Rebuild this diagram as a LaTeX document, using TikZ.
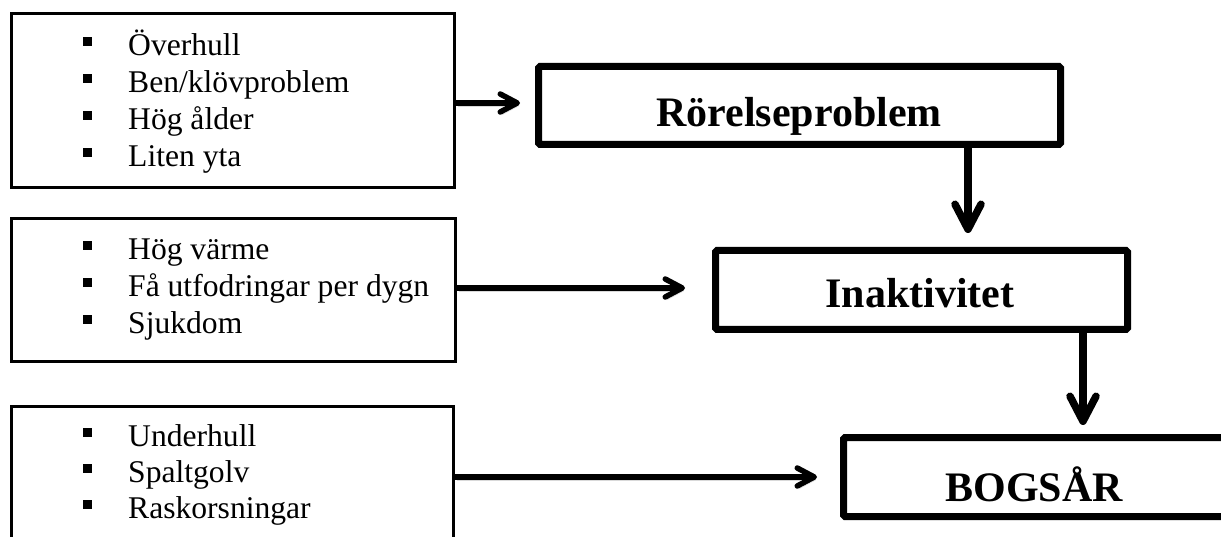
\documentclass[tikz,border=0pt]{standalone}
\usepackage{fontspec}
\setmainfont{Liberation Serif}
\usetikzlibrary{arrows.meta}
\begin{document}
\begin{tikzpicture}[x=1pt,y=-1pt,
  thinbox/.style={draw, line width=3pt, inner sep=0pt},
  thickbox/.style={draw, line width=7pt, inner sep=0pt, rounded corners=1.5pt},
  itemtxt/.style={anchor=base west, inner sep=0pt, font=\fontsize{31.6pt}{37pt}\selectfont},
  titletxt/.style={anchor=base, inner sep=0pt, font=\fontsize{42pt}{48pt}\selectfont\bfseries},
  arrshadow/.style={preaction={draw=black!25, opacity=0.6, transform canvas={shift={(1.5pt,-3pt)}}}},
  harrow/.style={arrshadow, line width=5.5pt, line cap=round,
    -{Straight Barb[length=17pt, width=18pt, round]}},
  varrow/.style={arrshadow, line width=7.5pt, line cap=round,
    -{Straight Barb[length=25pt, width=26pt, round]}}
]
\useasboundingbox (0,0) rectangle (1221,537);
\clip (0,0) rectangle (1221,537);
\newcommand{\bul}{\makebox[45pt][l]{\rule[9.5pt]{9pt}{9pt}}}

% left boxes
\node[thinbox, minimum width=443pt, minimum height=174pt] (b1) at (233,100.5) {};
\node[thinbox, minimum width=444pt, minimum height=143pt] (b2) at (233.5,290) {};
\node[thinbox, minimum width=442pt, minimum height=162pt] (b3) at (232.5,487.5) {};

\node[itemtxt] (b1a) at (83,56)  {\bul Överhull};
\node[itemtxt] (b1b) at (83,93)  {\bul Ben/klövproblem};
\node[itemtxt] (b1c) at (83,130) {\bul Hög ålder};
\node[itemtxt] (b1d) at (83,167) {\bul Liten yta};

\node[itemtxt] (b2a) at (83,260) {\bul Hög värme};
\node[itemtxt] (b2b) at (83,297) {\bul Få utfodringar per dygn};
\node[itemtxt] (b2c) at (83,334) {\bul Sjukdom};

\node[itemtxt] (b3a) at (83,446) {\bul Underhull};
\node[itemtxt] (b3b) at (83,482) {\bul Spaltgolv};
\node[itemtxt] (b3c) at (83,518) {\bul Raskorsningar};

% right boxes
\node[thickbox, minimum width=522pt, minimum height=78pt] (r) at (799.5,105.5) {};
\node[thickbox, minimum width=412pt, minimum height=79pt] (in) at (921.5,290) {};
\node[thickbox, minimum width=393pt, minimum height=79pt] (bo) at (1040,477) {};

\node[titletxt] (rt) at (799,127) {Rörelseproblem};
\node[titletxt] (it) at (920,308) {Inaktivitet};
\node[titletxt] (bt) at (1034,501) {BOGSÅR};

% connectors
\draw[harrow, shorten >=15pt] ([yshift=2.5pt]b1.east |- r.west) -- ([yshift=2.5pt]r.west);
\draw[harrow, shorten >=27pt] ([yshift=2pt]b2.east) -- ([yshift=2pt]b2.east -| in.west);
\draw[harrow, shorten >=23pt] (b3.east |- bo.west) -- (bo.west);
\draw[varrow, shorten >=14pt] ([xshift=168.5pt]r.south) -- ([xshift=168.5pt]r.south |- in.north);
\draw[varrow, shorten >=9pt] ([xshift=161.5pt]in.south) -- ([xshift=161.5pt]in.south |- bo.north);
\end{tikzpicture}
\end{document}
